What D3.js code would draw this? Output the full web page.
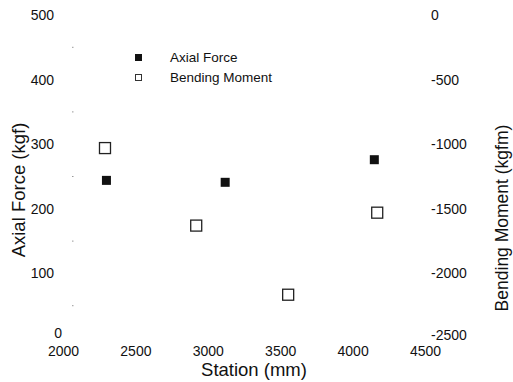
<!DOCTYPE html>
<html>
<head>
<meta charset="utf-8">
<script src="https://cdn.jsdelivr.net/npm/d3@7"></script>
<style>
  body { margin: 0; background: white; }
  text { font-family: "Liberation Sans", Arial, sans-serif; fill: #111; }
</style>
</head>
<body>
<div id="chart"></div>
<script>
// Station positions (mm) and values
const axialStation = [2300, 3120, 4150];
const axialForce = [244, 241, 276];
const momentStation = [2290, 2920, 3555, 4170];
const bendingMoment = [-1030, -1630, -2165, -1530];

const xTicks = [2000, 2500, 3000, 3500, 4000, 4500];
const leftTicks = [0, 100, 200, 300, 400, 500];
const rightTicks = [0, -500, -1000, -1500, -2000, -2500];
const leftMinor = [50, 150, 250, 350, 450];

const W = 513, H = 382;

const svg = d3.select("#chart")
    .append("svg")
    .attr("width", W)
    .attr("height", H);

const x = d3.scaleLinear().domain([2000, 4500]).range([63, 425]);
const yL = d3.scaleLinear().domain([0, 500]).range([338, 15]);
const yR = d3.scaleLinear().domain([-2500, 0]).range([338, 15]);

const plain = d => String(d); // keep plain hyphen, no thousands comma

// axes: only labels survive in the scan, lines removed
const bottomAxis = svg.append("g")
    .attr("transform", `translate(0,${342})`)
    .call(d3.axisBottom(x).tickValues(xTicks).tickSize(0).tickPadding(4).tickFormat(plain));
bottomAxis.select(".domain").remove();
bottomAxis.selectAll("text").style("font-size", "14px").attr("fill", "#111");

const leftAxis = svg.append("g")
    .attr("transform", "translate(54,0)")
    .call(d3.axisLeft(yL).tickValues(leftTicks).tickSize(0).tickPadding(0).tickFormat(plain));
leftAxis.select(".domain").remove();
leftAxis.selectAll("text").style("font-size", "14px").attr("fill", "#111");
leftAxis.selectAll(".tick").filter(d => d === 0).select("text").attr("x", 8).attr("dy", "-0.05em");

const rightAxis = svg.append("g")
    .attr("transform", "translate(431,0)")
    .call(d3.axisRight(yR).tickValues(rightTicks).tickSize(0).tickPadding(0).tickFormat(plain));
rightAxis.select(".domain").remove();
rightAxis.selectAll("text").style("font-size", "14px").attr("fill", "#111");
rightAxis.selectAll(".tick").filter(d => d === -2500).select("text").attr("dy", "0.1em");

// faint leftover minor tick specks
svg.selectAll(".minor")
    .data(leftMinor)
    .enter().append("rect")
    .attr("x", 72)
    .attr("y", d => yL(d) - 0.5)
    .attr("width", 1.5)
    .attr("height", 1)
    .attr("fill", "#999");

// axis titles
svg.append("text")
    .attr("x", 254)
    .attr("y", 376)
    .attr("text-anchor", "middle")
    .style("font-size", "18.5px")
    .text("Station (mm)");

svg.append("text")
    .attr("transform", "rotate(-90)")
    .attr("x", -190)
    .attr("y", 25)
    .attr("text-anchor", "middle")
    .style("font-size", "18.5px")
    .text("Axial Force (kgf)");

svg.append("text")
    .attr("transform", "rotate(-90)")
    .attr("x", -218)
    .attr("y", 508)
    .attr("text-anchor", "middle")
    .style("font-size", "17.5px")
    .text("Bending Moment (kgfm)");

// Axial force markers
const fs = 9;
svg.selectAll(".axial")
    .data(axialStation.map((s, i) => ({ s, v: axialForce[i] })))
    .enter().append("rect")
    .attr("class", "axial")
    .attr("x", d => x(d.s) - fs / 2)
    .attr("y", d => yL(d.v) - fs / 2)
    .attr("width", fs)
    .attr("height", fs)
    .attr("fill", "#111");

// Bending moment markers
const os = 11;
svg.selectAll(".moment")
    .data(momentStation.map((s, i) => ({ s, v: bendingMoment[i] })))
    .enter().append("rect")
    .attr("class", "moment")
    .attr("x", d => x(d.s) - os / 2)
    .attr("y", d => yR(d.v) - os / 2)
    .attr("width", os)
    .attr("height", os)
    .attr("fill", "white")
    .attr("stroke", "#222")
    .attr("stroke-width", 1.3);

// Legend
svg.append("rect")
    .attr("x", 135).attr("y", 54)
    .attr("width", 7).attr("height", 7)
    .attr("fill", "#111");
svg.append("text")
    .attr("x", 170).attr("y", 62)
    .style("font-size", "13.5px")
    .text("Axial Force");

svg.append("rect")
    .attr("x", 135.5).attr("y", 74.5)
    .attr("width", 6).attr("height", 6)
    .attr("fill", "white")
    .attr("stroke", "#333")
    .attr("stroke-width", 1);
svg.append("text")
    .attr("x", 170).attr("y", 82)
    .style("font-size", "13.5px")
    .text("Bending Moment");
</script>
</body>
</html>
